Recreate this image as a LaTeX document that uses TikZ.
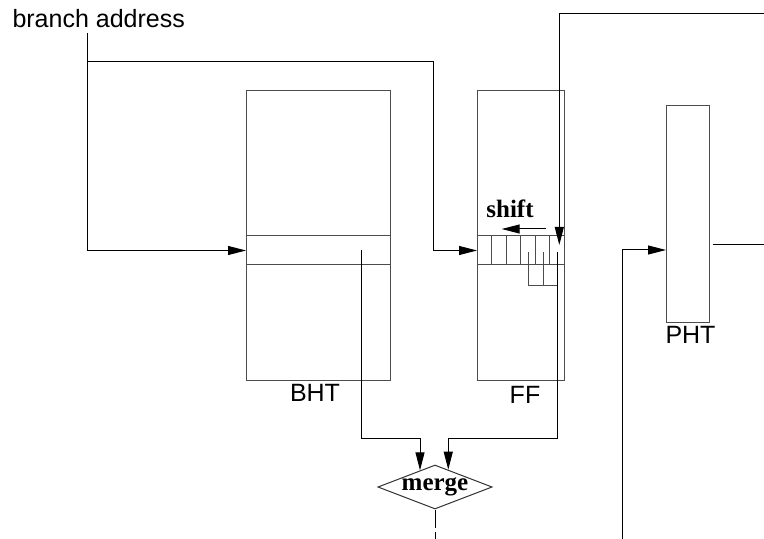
\documentclass[tikz,border=0pt]{standalone}
\usepackage{fontspec}
\setmainfont{Liberation Serif}
\setsansfont{Liberation Sans}
\usetikzlibrary{arrows.meta,shapes.geometric,calc}

\begin{document}
\begin{tikzpicture}[x=0.5pt,y=-0.5pt,line width=0.5pt,
  every node/.style={font=\sffamily\fontsize{12.5}{15}\selectfont},
  >={Triangle[length=9pt,width=4.5pt]},
  tbl/.style={draw=black!70,rectangle,inner sep=0pt},
  lbl/.style={font=\rmfamily\bfseries\fontsize{12.5}{15}\selectfont}]
\useasboundingbox (0,0) rectangle (764,539);
% address input
\node[anchor=base west,inner sep=0pt] (addrlbl) at (12,28) {branch address};
\coordinate (addr) at (87,33);
\coordinate (fork) at (87,62);
\coordinate (ffturn) at (433,62);
% BHT
\node[tbl,minimum width=72pt,minimum height=144.75pt] (bht) at (318.5,235.75) {};
\node[tbl,minimum width=72pt,minimum height=14.5pt] (bhtrow) at (318.5,250.5) {};
\node[anchor=base] (bhtlbl) at (315,401) {BHT};
% FF
\node[tbl,minimum width=43.25pt,minimum height=144.5pt] (ff) at (520.75,235.5) {};
\node[tbl,minimum width=43.25pt,minimum height=14.5pt] (ffrow) at (520.75,250.5) {};
\node[anchor=base] (fflbl) at (525,403) {FF};
\foreach \x in {491.7,506,520.7,535.3,549.7}
  \draw[black!70] (\x,236) -- (\x,265);
\foreach \x in {528,543}
  \draw[black!70] (\x,252) -- (\x,286);
\draw[black!70] (528,286) -- (558,286);
\node[lbl,anchor=base] (shiftlbl) at (510,218) {shift};
\coordinate (shiftfrom) at (546,229);
\coordinate (shiftto) at (501.7,229);
\draw[->] (shiftfrom) -- (shiftto);
% PHT
\node[tbl,minimum width=21.5pt,minimum height=108pt] (pht) at (687.5,214) {};
\node[anchor=base] (phtlbl) at (690.5,343) {PHT};
% merge
\node[draw=black!80,diamond,inner sep=0pt,aspect=2.6,minimum width=57pt,minimum height=22pt,lbl] (merge) at (435,487) {merge};
\coordinate (bhtout) at (361.7,250.5);
\coordinate (ffout) at (557.3,252);
\coordinate (join) at (0,438.3);
\coordinate (mergeL) at ($(merge.north)!0.26!(merge.west)$);
\coordinate (mergeR) at ($(merge.north)!0.23!(merge.east)$);
\coordinate (bottom) at (435,539);
% other coordinates
\coordinate (hist) at (764,13.5);
\coordinate (histin) at (559.3,245);
\coordinate (phtsrc) at (622,539);
\coordinate (phtin) at (666,250);
\coordinate (phtout) at (712.7,245);
\coordinate (edge) at (764,245);
% connectors
\draw[->] (addr) |- (bhtrow.west);
\draw[->] (fork) -- (ffturn) |- (ffrow.west);
\draw[->] (hist) -| (histin);
\draw[->] (bhtout) |- (mergeL|-join) -- (mergeL);
\draw[->] (ffout) |- (mergeR|-join) -- (mergeR);
\draw[dash pattern=on 9pt off 2pt] (merge.south) -- (bottom);
\draw[->] (phtsrc) |- (phtin);
\draw (phtout) -- (edge);
\end{tikzpicture}
\end{document}
